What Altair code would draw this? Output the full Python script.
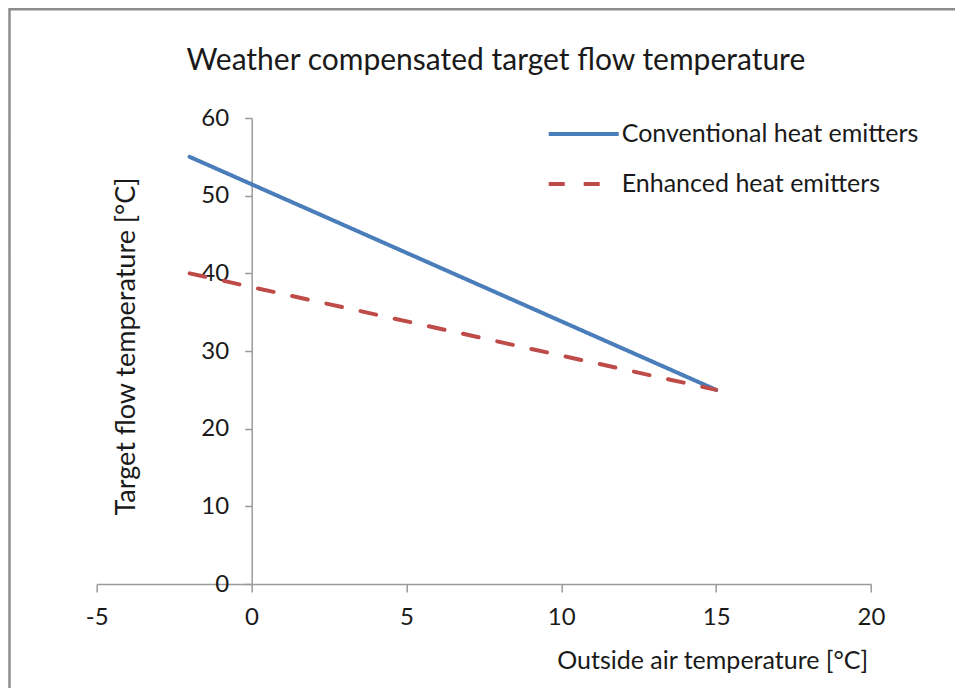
import altair as alt
import pandas as pd

# Data
outside_temp = [-2, 15]
conventional = [55, 25]
enhanced = [40, 25]
series_names = ["Conventional heat emitters", "Enhanced heat emitters"]
x_ticks = [-5, 0, 5, 10, 15, 20]
y_ticks = [0, 10, 20, 30, 40, 50, 60]

rows = []
for x, y in zip(outside_temp, conventional):
    rows.append({"x": x, "y": y, "series": series_names[0]})
for x, y in zip(outside_temp, enhanced):
    rows.append({"x": x, "y": y, "series": series_names[1]})
df = pd.DataFrame(rows)

FONT = "Lato"
TXT = "#1a1a1a"
AXC = "#9a9a9a"

legend_kw = dict(title=None, orient="none", legendX=450, legendY=-21,
                 symbolType="stroke", symbolSize=4900, symbolStrokeWidth=4,
                 labelOffset=1, labelFont=FONT, labelFontSize=25, labelColor=TXT,
                 labelLimit=0, rowPadding=-13, padding=0)

lines = alt.Chart(df).mark_line(strokeWidth=4, strokeCap="round").encode(
    x=alt.X("x:Q", scale=alt.Scale(domain=[-5, 20], nice=False),
            axis=alt.Axis(values=x_ticks, title="Outside air temperature [°C]",
                          grid=False, domainColor=AXC, domainWidth=1.5,
                          tickColor=AXC, tickWidth=1.5, tickSize=8,
                          labelFont=FONT, labelFontSize=24, labelColor=TXT,
                          labelPadding=13, labelFlush=False,
                          labelExpr="datum.value < 0 ? '-' + abs(datum.value) : datum.label",
                          titleFont=FONT, titleFontSize=25, titleFontWeight="normal",
                          titleColor=TXT, titleAlign="right", titleBaseline="alphabetic",
                          titleX=771, titleY=84)),
    y=alt.Y("y:Q", scale=alt.Scale(domain=[0, 60], nice=False),
            axis=alt.Axis(values=y_ticks, title="Target flow temperature [°C]",
                          grid=False, offset=-155, domainColor=AXC, domainWidth=1.5,
                          tickColor=AXC, tickWidth=1.5, tickSize=7,
                          labelFont=FONT, labelFontSize=24, labelColor=TXT,
                          labelPadding=16, labelFlush=False,
                          titleFont=FONT, titleFontSize=27, titleFontWeight="normal",
                          titleColor=TXT, titleAngle=270, titleAlign="center",
                          titleBaseline="alphabetic", titleX=-117, titleY=228)),
    color=alt.Color("series:N",
                    scale=alt.Scale(domain=series_names, range=["#4A7EBB", "#BE4B48"]),
                    legend=alt.Legend(**legend_kw)),
    strokeDash=alt.StrokeDash("series:N",
                              scale=alt.Scale(domain=series_names, range=[[1, 0], [16, 19]]),
                              legend=alt.Legend(**legend_kw)),
)

frame = alt.Chart(pd.DataFrame({"k": [0]})).mark_rect(
    fill=None, stroke="#8c8c8c", strokeWidth=2.5
).encode(
    x=alt.value(-87.2), x2=alt.value(1000), y=alt.value(-108.7), y2=alt.value(800)
)

chart = alt.layer(frame, lines).properties(
    width=774.3, height=466,
    background="white",
    autosize=alt.AutoSizeParams(type="none"),
    padding={"left": 88.7, "top": 110, "right": 84, "bottom": 104},
    title=alt.TitleParams("Weather compensated target flow temperature",
                          font=FONT, fontSize=30, fontWeight="normal", color=TXT,
                          anchor="middle", baseline="alphabetic", dx=12, dy=96),
).configure_view(strokeWidth=0, stroke="transparent")

chart.save("out.html", embed_options={"renderer": "svg", "actions": False})
